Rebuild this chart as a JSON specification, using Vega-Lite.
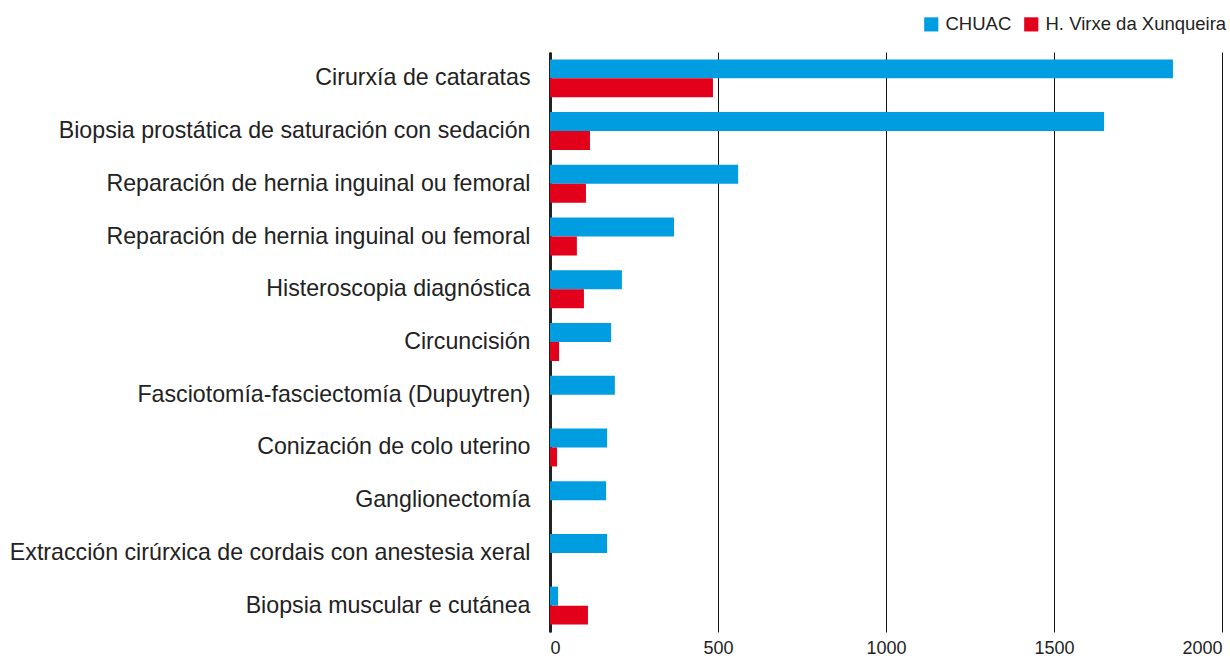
{
  "$schema": "https://vega.github.io/schema/vega-lite/v6.json",
  "width": 672,
  "height": 580,
  "autosize": {"type": "none"},
  "padding": {"left": 550, "top": 52, "right": 8, "bottom": 28},
  "background": "white",
  "config": {
    "font": "Liberation Sans",
    "view": {"stroke": null}
  },
  "data": {
    "values": [
      {"proc": "01 Cirurxía de cataratas", "hosp": "CHUAC", "v": 1854},
      {"proc": "01 Cirurxía de cataratas", "hosp": "H. Virxe da Xunqueira", "v": 485},
      {"proc": "02 Biopsia prostática de saturación con sedación", "hosp": "CHUAC", "v": 1649},
      {"proc": "02 Biopsia prostática de saturación con sedación", "hosp": "H. Virxe da Xunqueira", "v": 119},
      {"proc": "03 Reparación de hernia inguinal ou femoral", "hosp": "CHUAC", "v": 560},
      {"proc": "03 Reparación de hernia inguinal ou femoral", "hosp": "H. Virxe da Xunqueira", "v": 107},
      {"proc": "04 Reparación de hernia inguinal ou femoral", "hosp": "CHUAC", "v": 369},
      {"proc": "04 Reparación de hernia inguinal ou femoral", "hosp": "H. Virxe da Xunqueira", "v": 80},
      {"proc": "05 Histeroscopia diagnóstica", "hosp": "CHUAC", "v": 214},
      {"proc": "05 Histeroscopia diagnóstica", "hosp": "H. Virxe da Xunqueira", "v": 101},
      {"proc": "06 Circuncisión", "hosp": "CHUAC", "v": 182},
      {"proc": "06 Circuncisión", "hosp": "H. Virxe da Xunqueira", "v": 27},
      {"proc": "07 Fasciotomía-fasciectomía (Dupuytren)", "hosp": "CHUAC", "v": 193},
      {"proc": "07 Fasciotomía-fasciectomía (Dupuytren)", "hosp": "H. Virxe da Xunqueira", "v": 0},
      {"proc": "08 Conización de colo uterino", "hosp": "CHUAC", "v": 170},
      {"proc": "08 Conización de colo uterino", "hosp": "H. Virxe da Xunqueira", "v": 21},
      {"proc": "09 Ganglionectomía", "hosp": "CHUAC", "v": 167},
      {"proc": "09 Ganglionectomía", "hosp": "H. Virxe da Xunqueira", "v": 0},
      {"proc": "10 Extracción cirúrxica de cordais con anestesia xeral", "hosp": "CHUAC", "v": 170},
      {"proc": "10 Extracción cirúrxica de cordais con anestesia xeral", "hosp": "H. Virxe da Xunqueira", "v": 0},
      {"proc": "11 Biopsia muscular e cutánea", "hosp": "CHUAC", "v": 24},
      {"proc": "11 Biopsia muscular e cutánea", "hosp": "H. Virxe da Xunqueira", "v": 113}
    ]
  },
  "mark": {"type": "bar"},
  "encoding": {
    "y": {
      "field": "proc",
      "type": "nominal",
      "sort": "ascending",
      "scale": {"paddingInner": 0.28, "paddingOuter": 0.14},
      "axis": {
        "title": null,
        "labelExpr": "substring(datum.label, 3)",
        "labelFontSize": 23.2,
        "labelColor": "#222222",
        "labelPadding": 20,
        "labelLimit": 600,
        "ticks": false,
        "domain": true,
        "domainColor": "#222222",
        "domainWidth": 3,
        "grid": false
      }
    },
    "yOffset": {"field": "hosp", "type": "nominal", "sort": ["CHUAC", "H. Virxe da Xunqueira"]},
    "x": {
      "field": "v",
      "type": "quantitative",
      "scale": {"domain": [0, 2000], "nice": false},
      "axis": {
        "title": null,
        "values": [0, 500, 1000, 1500, 2000],
        "format": "d",
        "labelFontSize": 18,
        "labelColor": "#222222",
        "labelPadding": 7,
        "ticks": false,
        "domain": false,
        "grid": true,
        "gridColor": "#111111",
        "gridWidth": 1,
        "labelFlush": true
      }
    },
    "color": {
      "field": "hosp",
      "type": "nominal",
      "scale": {"domain": ["CHUAC", "H. Virxe da Xunqueira"], "range": ["#009EE0", "#E2001A"]},
      "legend": {
        "title": null,
        "orient": "none",
        "legendX": 372,
        "legendY": -37,
        "direction": "horizontal",
        "symbolType": "square",
        "symbolSize": 200,
        "symbolStrokeWidth": 0,
        "labelFontSize": 18.5,
        "labelLimit": 400,
        "labelColor": "#222222",
        "labelOffset": 5,
        "columnPadding": 10
      }
    }
  }
}
